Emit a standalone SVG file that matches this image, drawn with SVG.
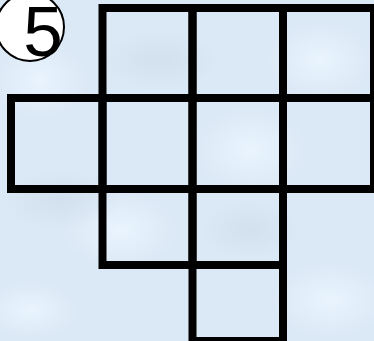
<svg xmlns="http://www.w3.org/2000/svg" width="374" height="341" viewBox="0 0 374 341">
  <defs>
    <radialGradient id="blobL" cx="50%" cy="50%" r="50%">
      <stop offset="0" stop-color="#eaf5ff" stop-opacity="0.9"/>
      <stop offset="1" stop-color="#eaf5ff" stop-opacity="0"/>
    </radialGradient>
    <radialGradient id="blobD" cx="50%" cy="50%" r="50%">
      <stop offset="0" stop-color="#cfdcea" stop-opacity="0.7"/>
      <stop offset="1" stop-color="#cfdcea" stop-opacity="0"/>
    </radialGradient>
  </defs>
  <style>
    .cell { fill: none; stroke: #000; stroke-width: 8; stroke-linejoin: miter; }
    .badge { fill: #fff; stroke: #000; stroke-width: 2; }
    .num { font-family: "Liberation Sans", Arial, sans-serif; font-size: 71px; fill: #000; text-anchor: middle; }
  </style>
  <g id="background">
    <rect x="0" y="0" width="374" height="341" fill="#dbe8f5"/>
    <ellipse cx="120" cy="230" rx="60" ry="40" fill="url(#blobL)"/>
    <ellipse cx="40" cy="80" rx="50" ry="40" fill="url(#blobL)"/>
    <ellipse cx="250" cy="150" rx="60" ry="45" fill="url(#blobL)"/>
    <ellipse cx="320" cy="60" rx="55" ry="40" fill="url(#blobL)"/>
    <ellipse cx="30" cy="310" rx="50" ry="30" fill="url(#blobL)"/>
    <ellipse cx="330" cy="300" rx="60" ry="40" fill="url(#blobL)"/>
    <ellipse cx="60" cy="200" rx="60" ry="30" fill="url(#blobD)"/>
    <ellipse cx="250" cy="230" rx="50" ry="30" fill="url(#blobD)"/>
    <ellipse cx="160" cy="60" rx="60" ry="30" fill="url(#blobD)"/>
  </g>
  <g id="cell-r1c2"><rect class="cell" x="102.5" y="8" width="90" height="90"/></g>
  <g id="cell-r1c3"><rect class="cell" x="192.5" y="8" width="90.5" height="90"/></g>
  <g id="cell-r1c4"><rect class="cell" x="283" y="8" width="91" height="90"/></g>
  <g id="cell-r2c1"><rect class="cell" x="11" y="98" width="91.5" height="91"/></g>
  <g id="cell-r2c2"><rect class="cell" x="102.5" y="98" width="90" height="91"/></g>
  <g id="cell-r2c3"><rect class="cell" x="192.5" y="98" width="90.5" height="91"/></g>
  <g id="cell-r2c4"><rect class="cell" x="283" y="98" width="91" height="91"/></g>
  <g id="cell-r3c2"><rect class="cell" x="102.5" y="189" width="90" height="76"/></g>
  <g id="cell-r3c3"><rect class="cell" x="192.5" y="189" width="90.5" height="76"/></g>
  <g id="cell-r4c3"><rect class="cell" x="192.5" y="265" width="90.5" height="76"/></g>
  <g id="badge">
    <circle class="badge" cx="30" cy="27" r="34"/>
    <text class="num" x="43" y="56">5</text>
  </g>
  <g id="connectors"/>
</svg>
